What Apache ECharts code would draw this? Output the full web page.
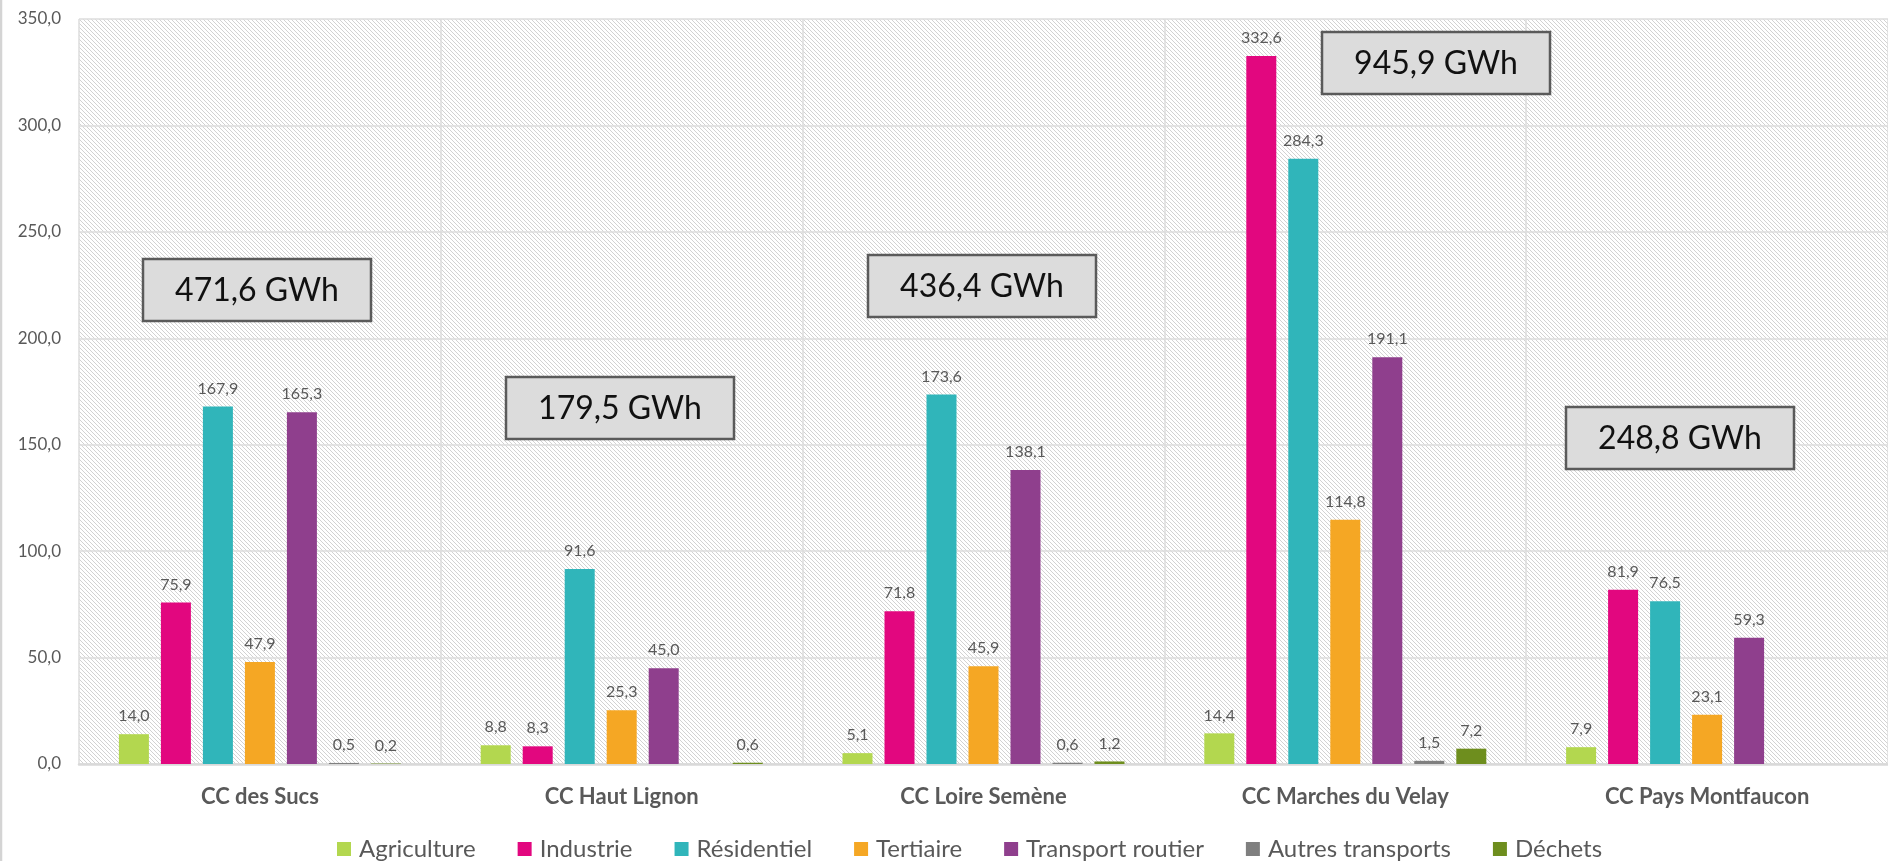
<!DOCTYPE html>
<html>
<head>
<meta charset="utf-8">
<script src="https://cdn.jsdelivr.net/npm/echarts@6/dist/echarts.min.js"></script>
<style>
html,body{margin:0;padding:0;background:#fff;}
#chart{width:1888px;height:861px;}
</style>
</head>
<body>
<div id="chart"></div>
<script>
const categories = ['CC des Sucs', 'CC Haut Lignon', 'CC Loire Semène', 'CC Marches du Velay', 'CC Pays Montfaucon'];
const agriculture = [14.0, 8.8, 5.1, 14.4, 7.9];
const industrie = [75.9, 8.3, 71.8, 332.6, 81.9];
const residentiel = [167.9, 91.6, 173.6, 284.3, 76.5];
const tertiaire = [47.9, 25.3, 45.9, 114.8, 23.1];
const transportRoutier = [165.3, 45.0, 138.1, 191.1, 59.3];
const autresTransports = [0.5, null, 0.6, 1.5, null];
const dechets = [0.2, 0.6, 1.2, 7.2, null];
const totals = [471.6, 179.5, 436.4, 945.9, 248.8];
const yTicks = [0, 50, 100, 150, 200, 250, 300, 350];

const seriesDefs = [
  {name: 'Agriculture', data: agriculture, color: '#b3d74f'},
  {name: 'Industrie', data: industrie, color: '#e2077f'},
  {name: 'Résidentiel', data: residentiel, color: '#30b5ba'},
  {name: 'Tertiaire', data: tertiaire, color: '#f5a724'},
  {name: 'Transport routier', data: transportRoutier, color: '#8f3f8d'},
  {name: 'Autres transports', data: autresTransports, color: '#7f7f7f'},
  {name: 'Déchets', data: dechets, color: '#6e8e1e'}
];

// box layout (pixels) for total annotations
const boxLayout = [
  {x: 143, y: 259}, {x: 506, y: 377}, {x: 868, y: 255}, {x: 1322, y: 32}, {x: 1566, y: 407}
];

function fmt(v) { return v.toFixed(1).replace('.', ','); }

// hatch pattern
const pc = document.createElement('canvas');
pc.width = 4; pc.height = 4;
const pctx = pc.getContext('2d');
pctx.fillStyle = '#ffffff';
pctx.fillRect(0, 0, 4, 4);
pctx.fillStyle = '#d2d2d2';
for (let i = 0; i < 4; i++) pctx.fillRect(i, i, 1, 1);

const chart = echarts.init(document.getElementById('chart'), null, {renderer: 'canvas'});
const FONT = 'Lato, "Open Sans", sans-serif';

const graphics = [
  {type: 'line', shape: {x1: 1, y1: 0, x2: 1, y2: 861}, style: {stroke: '#d4d4d4', lineWidth: 2.5}, z: 100}
];
totals.forEach((t, i) => {
  const b = boxLayout[i];
  graphics.push({
    type: 'rect', z: 100, zlevel: 1,
    shape: {x: b.x, y: b.y, width: 228, height: 62},
    style: {fill: '#dcdcdc', stroke: '#5a5a5a', lineWidth: 2.5}
  });
  graphics.push({
    type: 'text', z: 101, zlevel: 1, x: b.x + 114, y: b.y + 32,
    style: {text: fmt(t) + ' GWh', fill: '#111111', font: '32px ' + FONT,
            align: 'center', verticalAlign: 'middle'}
  });
});

chart.setOption({
  animation: false,
  backgroundColor: '#ffffff',
  textStyle: {fontFamily: FONT},
  grid: {
    left: 79, top: 19, width: 1815, height: 745,
    show: true, borderWidth: 0,
    backgroundColor: {image: pc, repeat: 'repeat'}
  },
  legend: {
    left: 332, top: 832,
    itemWidth: 14, itemHeight: 14, itemGap: 42,
    icon: 'rect',
    textStyle: {fontSize: 24, color: '#595959', fontFamily: FONT, padding: [0, 0, 0, 3]},
    data: seriesDefs.map(s => s.name)
  },
  xAxis: {
    type: 'category',
    data: categories,
    axisTick: {show: false},
    axisLine: {show: true, lineStyle: {color: '#d9d9d9', width: 2.5}},
    splitLine: {show: true, lineStyle: {color: '#dcdcdc', width: 1.5}},
    axisLabel: {fontSize: 22, fontWeight: 'bold', color: '#595959', margin: 22, fontFamily: FONT}
  },
  yAxis: {
    type: 'value',
    min: yTicks[0], max: yTicks[yTicks.length - 1], interval: 50,
    axisLine: {show: false},
    axisTick: {show: false},
    splitLine: {show: true, lineStyle: {color: '#dcdcdc', width: 1.5}},
    axisLabel: {fontSize: 17, color: '#595959', margin: 18, fontFamily: FONT,
                formatter: v => fmt(v)}
  },
  series: seriesDefs.map(s => ({
    name: s.name,
    type: 'bar',
    data: s.data,
    barWidth: 30,
    barGap: '40%',
    itemStyle: {color: s.color},
    label: {
      show: true, position: 'top', distance: 10,
      fontSize: 16, color: '#595959', fontFamily: FONT,
      formatter: p => (p.value == null ? '' : fmt(p.value))
    }
  })),
  graphic: graphics
});
</script>
</body>
</html>
